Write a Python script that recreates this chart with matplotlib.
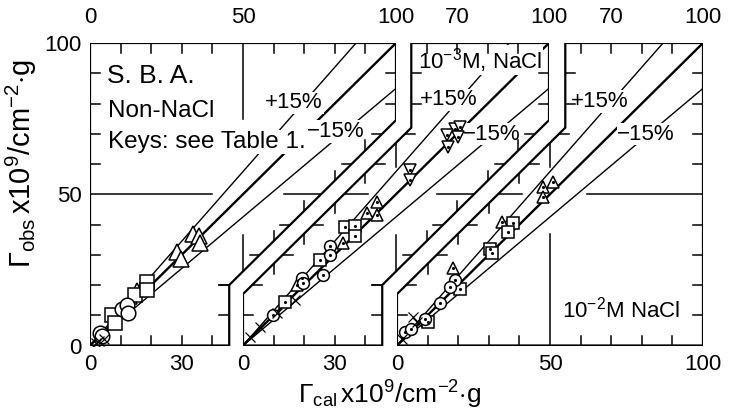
import numpy as np
import matplotlib.pyplot as plt
from matplotlib.patches import Polygon

plt.rcParams["font.family"] = ["Liberation Sans", "DejaVu Sans"]
plt.rcParams["mathtext.fontset"] = "custom"
plt.rcParams["mathtext.rm"] = "Liberation Sans"
plt.rcParams["mathtext.it"] = "Liberation Sans:italic"

# reference lines: 1:1 and +/-15 %
ref_x = np.array([0.0, 100.0])
ref_ratio = [1.0, 1.15, 0.85]

# --- Non-NaCl (open symbols) ---
non_tri_x = [28.3, 29.6, 33.8, 35.5, 35.8]
non_tri_y = [31.0, 28.6, 36.8, 36.2, 33.8]
non_smtri_x = [13.6, 15.3]
non_smtri_y = [15.5, 18.9]
non_sq_x = [7.1, 8.2, 14.7, 18.5, 18.7]
non_sq_y = [10.1, 7.6, 16.7, 21.1, 18.3]
non_cir_x = [3.3, 4.0, 10.5, 12.0, 12.3]
non_cir_y = [4.0, 3.0, 12.0, 13.5, 10.8]
non_crs_x = [2.0, 3.0, 4.5]
non_crs_y = [0.8, 1.5, 2.0]

# --- 1e-3 M NaCl (dotted symbols) ---
m3_dtri_x = [69.3, 70.9, 66.6, 70.4, 67.1, 54.6, 54.6]
m3_dtri_y = [71.6, 72.3, 69.6, 69.0, 65.7, 58.0, 54.7]
m3_tri_x = [43.7, 40.4, 43.7, 32.8, 17.5]
m3_tri_y = [47.5, 43.7, 43.1, 33.8, 20.0]
m3_sq_x = [33.3, 36.6, 36.6, 25.2, 13.7]
m3_sq_y = [39.1, 39.5, 36.2, 28.3, 14.5]
m3_cir_x = [28.4, 28.4, 26.2, 19.2, 19.7, 9.9]
m3_cir_y = [32.9, 29.9, 23.3, 22.2, 20.6, 10.1]
m3_crs_x = [2.3, 5.6, 11.0, 17.0]
m3_crs_y = [2.9, 6.2, 10.6, 15.0]

# --- 1e-2 M NaCl (dotted symbols) ---
m2_tri_x = [47.8, 51.1, 47.8, 34.2, 18.4]
m2_tri_y = [52.5, 54.2, 49.2, 40.9, 25.5]
m2_sq_x = [38.0, 36.4, 30.4, 30.9, 20.6, 10.2]
m2_sq_y = [40.6, 37.6, 31.8, 30.5, 18.6, 7.9]
m2_cir_x = [19.0, 17.3, 14.1, 9.2, 2.6, 4.5]
m2_cir_y = [21.7, 19.4, 14.2, 8.7, 4.6, 5.5]
m2_crs_x = [1.5, 5.3, 6.4]
m2_crs_y = [2.0, 9.5, 7.9]

W, H = 729, 417
fig = plt.figure(figsize=(W / 100, H / 100), dpi=100)


def make_axes(px0):
    ax = fig.add_axes([px0 / W, (H - 345.5) / H, 306 / W, 302.5 / H])
    ax.set_xlim(0, 100)
    ax.set_ylim(0, 100)
    ax.patch.set_visible(False)
    for s in ax.spines.values():
        s.set_visible(False)
    ax.tick_params(length=0, labelsize=16, pad=6)
    ax.set_yticks([])
    return ax


def edge_ticks(ax, outline, long50, frame):
    # inward ticks every 10 units along each polygon edge
    n = len(outline)
    for i in range(n):
        (x0, y0), (x1, y1) = outline[i], outline[(i + 1) % n]
        nx, ny = -(y1 - y0), (x1 - x0)
        for v in range(10, 100, 10):
            if nx != 0 and min(y0, y1) <= v <= max(y0, y1):
                xe = x0 + (x1 - x0) * (v - y0) / (y1 - y0)
                L = long50.get(i, 3.3) if v == 50 else 3.3
                t, = ax.plot([xe, xe + np.sign(nx) * L], [v, v], color="k", lw=1.1, zorder=5)
                t.set_clip_path(frame)
            if ny != 0 and min(x0, x1) <= v <= max(x0, x1):
                ye = y0 + (y1 - y0) * (v - x0) / (x1 - x0)
                L = long50.get(i, 3.3) if v == 50 else 3.3
                t, = ax.plot([v, v], [ye, ye + np.sign(ny) * L], color="k", lw=1.1, zorder=5)
                t.set_clip_path(frame)


def draw_panel(ax, outline, long50, series, dotted):
    frame = Polygon(outline, closed=True, fill=False, lw=1.6, ec="k", zorder=6, joinstyle="miter")
    ax.add_patch(frame)
    for r in ref_ratio:
        ln, = ax.plot(ref_x, r * ref_x, color="k", lw=1.7 if r == 1.0 else 1.0, zorder=2)
        ln.set_clip_path(frame)
    edge_ticks(ax, outline, long50, frame)
    for x, y, m, ms in series:
        if m == "x":
            ax.plot(x, y, ls="none", marker="x", ms=ms, color="k", mew=0.9, zorder=4)
            continue
        ax.plot(x, y, ls="none", marker=m, ms=ms, mfc="white", mec="k", mew=1.1, zorder=4)
        if dotted:
            ax.plot(x, y, ls="none", marker=".", ms=2.5, color="k", zorder=4.5)


def label(ax, x, y, s, **kw):
    kw.setdefault("fontsize", 16)
    ax.text(x, y, s, zorder=3, bbox=dict(facecolor="white", edgecolor="none", pad=0.5), **kw)


def top_labels(ax, ticks):
    sec = ax.secondary_xaxis("top")
    sec.set_xticks(ticks)
    sec.spines["top"].set_visible(False)
    sec.tick_params(length=0, labelsize=16, pad=11)


outline1 = [(0, 0), (45.5, 0), (45.5, 20), (100, 74.5), (100, 100), (0, 100)]
outline2 = [(0, 0), (45.5, 0), (45.5, 20), (100, 74.5), (100, 100), (55, 100), (55, 72), (0, 17)]
outline3 = [(0, 0), (100, 0), (100, 100), (55, 100), (55, 72), (0, 17)]

# panel 1: Non-NaCl
ax1 = make_axes(90)
draw_panel(ax1, outline1, {2: 12, 4: 25, 5: 40}, [
    (non_tri_x, non_tri_y, "^", 11),
    (non_smtri_x, non_smtri_y, "^", 7),
    (non_sq_x, non_sq_y, "s", 10),
    (non_cir_x, non_cir_y, "o", 10.5),
    (non_crs_x, non_crs_y, "x", 7),
], dotted=False)
ax1.set_xticks([0, 30])
ax1.set_yticks([0, 50, 100])
top_labels(ax1, [0, 50, 100])
label(ax1, 5.6, 86.8, "S. B. A.", fontsize=19, va="baseline")
label(ax1, 5.9, 75.5, "Non-NaCl", fontsize=17.5, va="baseline")
label(ax1, 5.9, 65.3, "Keys: see Table 1.", fontsize=17.5, va="baseline")
label(ax1, 66.7, 80.2, "+15%", ha="center", va="center")
label(ax1, 80.4, 70.7, "\u221215%", ha="center", va="center")

# panel 2: 1e-3 M NaCl
ax2 = make_axes(243)
draw_panel(ax2, outline2, {2: 12, 6: 8}, [
    (m3_dtri_x, m3_dtri_y, "v", 9),
    (m3_tri_x, m3_tri_y, "^", 9),
    (m3_sq_x, m3_sq_y, "s", 8),
    (m3_cir_x, m3_cir_y, "o", 8.5),
    (m3_crs_x, m3_crs_y, "x", 7),
], dotted=True)
ax2.set_xticks([0, 30])
top_labels(ax2, [70, 100])
label(ax2, 57.2, 91.7, "10$^{-3}$M, NaCl", va="baseline")
label(ax2, 67.2, 81.2, "+15%", ha="center", va="center")
label(ax2, 81.4, 69.9, "\u221215%", ha="center", va="center")

# panel 3: 1e-2 M NaCl
ax3 = make_axes(397)
draw_panel(ax3, outline3, {0: 37, 1: 38, 4: 8}, [
    (m2_tri_x, m2_tri_y, "^", 9),
    (m2_sq_x, m2_sq_y, "s", 8),
    (m2_cir_x, m2_cir_y, "o", 8.5),
    (m2_crs_x, m2_crs_y, "x", 7),
], dotted=True)
ax3.set_xticks([0, 50, 100])
top_labels(ax3, [70, 100])
label(ax3, 66.3, 80.7, "+15%", ha="center", va="center")
label(ax3, 81.4, 69.9, "\u221215%", ha="center", va="center")
label(ax3, 53.9, 9.1, "10$^{-2}$M NaCl", va="baseline")

fig.text(21 / W, 1 - 163 / H, r"$\Gamma_{\rm obs}\,$x10$^{9}$/cm$^{-2}$$\cdot$g",
         rotation=90, ha="center", va="center", fontsize=21)
fig.text(390 / W, 1 - 395 / H, r"$\Gamma_{\rm cal}\,$x10$^{9}$/cm$^{-2}$$\cdot$g",
         ha="center", va="center", fontsize=19)

fig.savefig("out.png", dpi=100)
